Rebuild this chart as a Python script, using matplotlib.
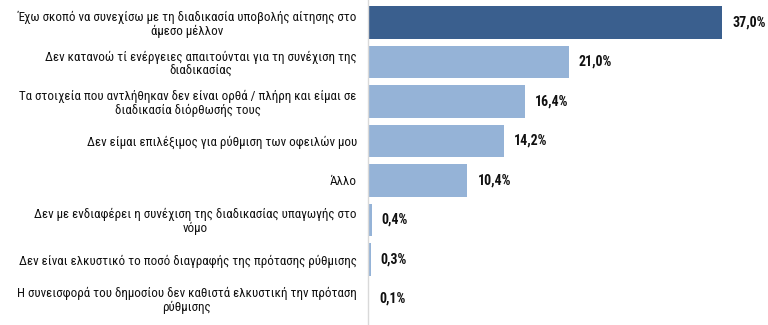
import matplotlib
matplotlib.use("Agg")
import matplotlib.pyplot as plt

categories = [
    "Έχω σκοπό να συνεχίσω με τη διαδικασία υποβολής αίτησης στο\nάμεσο μέλλον",
    "Δεν κατανοώ τί ενέργειες απαιτούνται για τη συνέχιση της\nδιαδικασίας",
    "Τα στοιχεία που αντλήθηκαν δεν είναι ορθά / πλήρη και είμαι σε\nδιαδικασία διόρθωσής τους",
    "Δεν είμαι επιλέξιμος για ρύθμιση των οφειλών μου",
    "Άλλο",
    "Δεν με ενδιαφέρει η συνέχιση της διαδικασίας υπαγωγής στο\nνόμο",
    "Δεν είναι ελκυστικό το ποσό διαγραφής της πρότασης ρύθμισης",
    "Η συνεισφορά του δημοσίου δεν καθιστά ελκυστική την πρόταση\nρύθμισης",
]
values = [37.0, 21.0, 16.4, 14.2, 10.4, 0.4, 0.3, 0.1]
value_labels = ["37,0%", "21,0%", "16,4%", "14,2%", "10,4%", "0,4%", "0,3%", "0,1%"]

fam = ["Roboto Condensed", "DejaVu Sans"]

fig = plt.figure(figsize=(7.68, 3.25), dpi=100)
ax = fig.add_axes([0.479, 0.0, 0.521, 1.0])
colors = ["#3A5F8E"] + ["#95B3D7"] * (len(values) - 1)
y = list(range(len(values)))
ax.barh(y, values, height=0.83, color=colors)
ax.set_xlim(0, 41.8)
ax.set_ylim(7.66, -0.57)

for yi, v, lab in zip(y, values, value_labels):
    ax.text(v + 1.05, yi, lab, va="center", ha="left", fontsize=10,
            fontweight="bold", family=fam, color="#111111")

ax.set_yticks(y)
ax.set_yticklabels(categories, fontsize=9.4, family=fam,
                   multialignment="center", color="#111111", linespacing=1.05)
ax.tick_params(axis="y", length=0, pad=8)
ax.set_xticks([])
for s in ["top", "right", "bottom"]:
    ax.spines[s].set_visible(False)
ax.spines["left"].set_color("#D9D9D9")
ax.spines["left"].set_linewidth(1.0)

fig.savefig("out.png", dpi=100)
